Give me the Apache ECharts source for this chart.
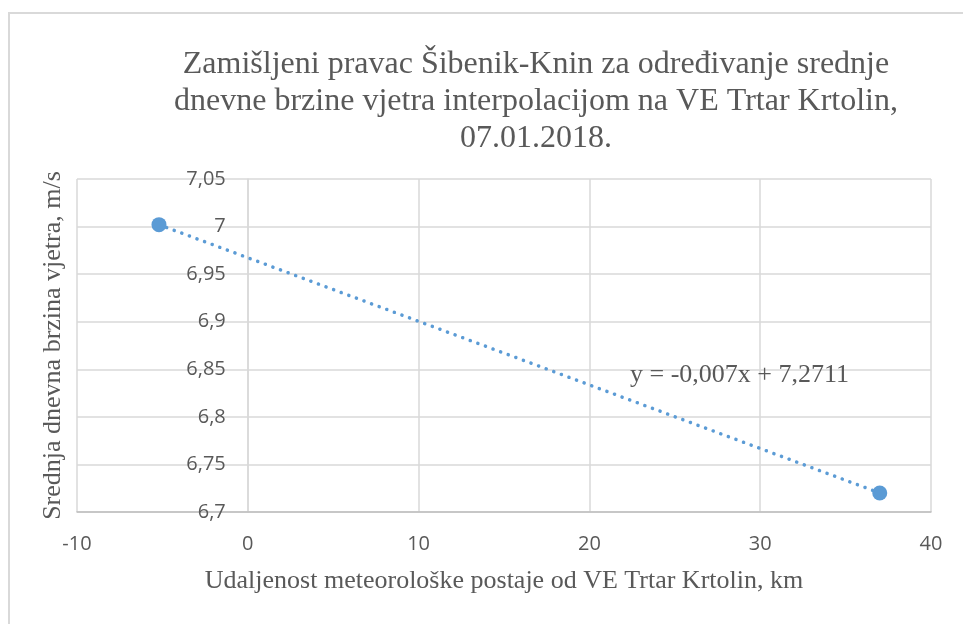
<!DOCTYPE html>
<html>
<head>
<meta charset="utf-8">
<script src="https://cdn.jsdelivr.net/npm/echarts@6/dist/echarts.min.js"></script>
<style>
  html, body { margin: 0; padding: 0; background: #fff; }
  #chart { width: 963px; height: 624px; }
</style>
</head>
<body>
<div id="chart"></div>
<script>
// udaljenost postaje (km) i srednja dnevna brzina vjetra (m/s)
var stationDist = [-5.2, 37];
var windSpeed = [7.002, 6.72];
var trendText = 'y = -0,007x + 7,2711';
var titleLines = [
  'Zamišljeni pravac Šibenik-Knin za određivanje srednje',
  'dnevne brzine vjetra interpolacijom na VE Trtar Krtolin,',
  '07.01.2018.'
];
var xName = 'Udaljenost meteorološke postaje od VE Trtar Krtolin, km';
var yName = 'Srednja dnevna brzina vjetra, m/s';

var points = [];
for (var i = 0; i < stationDist.length; i++) {
  points.push([stationDist[i], windSpeed[i]]);
}

var gray = '#595959';
var gridCol = '#d9d9d9';
var serif = '"Liberation Serif", "Times New Roman", serif';
var sans = '"Open Sans", "Liberation Sans", sans-serif';
var gridLeft = 77;

function comma(v) {
  return String(+v.toFixed(2)).replace('.', ',');
}

var option = {
  backgroundColor: '#fff',
  animation: false,
  title: {
    text: titleLines.join('\n'),
    left: 531,
    top: 41,
    textAlign: 'center',
    textStyle: {
      fontFamily: serif,
      fontSize: 32,
      fontWeight: 'normal',
      lineHeight: 37,
      color: gray
    }
  },
  grid: { left: gridLeft, right: 32, top: 179, bottom: 112, outerBoundsMode: 'none', containLabel: false },
  xAxis: {
    type: 'value',
    min: -10,
    max: 40,
    interval: 10,
    name: xName,
    nameLocation: 'middle',
    nameGap: 56,
    nameTextStyle: { fontFamily: serif, fontSize: 26, color: gray },
    axisLine: { onZero: false, lineStyle: { color: '#bfbfbf', width: 1.5 } },
    axisTick: { show: false },
    axisLabel: { margin: 22, fontFamily: sans, fontSize: 20, color: gray },
    splitLine: { show: true, lineStyle: { color: gridCol, width: 1.5 } }
  },
  yAxis: {
    type: 'value',
    min: 6.7,
    max: 7.05,
    interval: 0.05,
    name: yName,
    nameLocation: 'middle',
    nameGap: 182,
    nameTextStyle: { fontFamily: serif, fontSize: 26, color: gray },
    axisLine: { show: true, onZero: false, lineStyle: { color: gridCol, width: 1.5 } },
    axisTick: { show: false },
    axisLabel: { margin: 22, fontFamily: sans, fontSize: 20, color: gray, formatter: comma },
    splitLine: { show: true, lineStyle: { color: gridCol, width: 1.5 } }
  },
  graphic: [
    {
      type: 'rect',
      shape: { x: 9, y: 13, width: 1000, height: 700 },
      style: { fill: 'none', stroke: '#d9d9d9', lineWidth: 2 },
      silent: true,
      z: 0
    },
    {
      type: 'text',
      left: 630,
      top: 362,
      style: { text: trendText, fontFamily: serif, fontSize: 26, fill: gray },
      z: 10
    }
  ],
  series: [
    {
      name: 'Trend',
      type: 'line',
      data: points,
      symbol: 'none',
      lineStyle: { color: '#5b9bd5', width: 3.5, type: [0.1, 8], cap: 'round' },
      z: 2
    },
    {
      name: 'Brzina',
      type: 'scatter',
      data: points,
      symbolSize: 15,
      itemStyle: { color: '#5b9bd5', opacity: 1 },
      z: 3
    }
  ]
};

var chart = echarts.init(document.getElementById('chart'));
chart.setOption(option);

// vertikalna os siječe horizontalnu na x = 0 (kao u Excelu)
var zeroPx = chart.convertToPixel({ xAxisIndex: 0 }, 0);
chart.setOption({ yAxis: { offset: -(zeroPx - gridLeft) } });
</script>
</body>
</html>
